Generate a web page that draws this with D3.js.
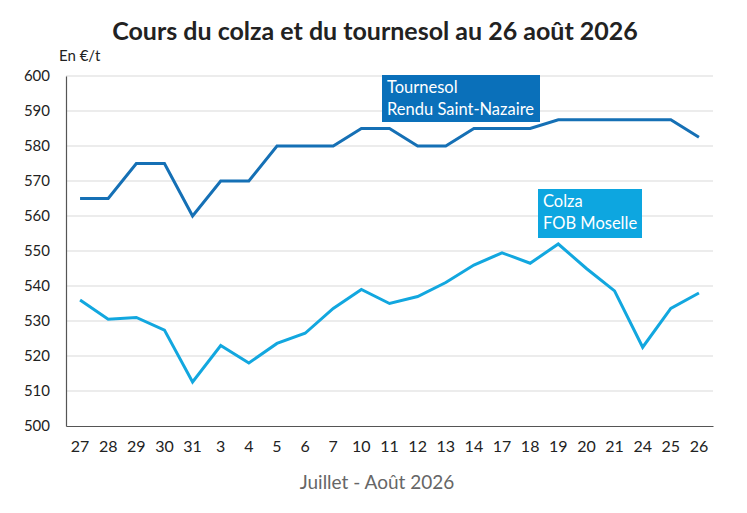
<!DOCTYPE html>
<html><head><meta charset="utf-8">
<script src="https://cdn.jsdelivr.net/npm/d3@7"></script>
<style>body{margin:0;background:#fff}svg{display:block}</style>
</head><body>
<svg id="c" width="747" height="513"></svg>
<script>
const categories = ["27","28","29","30","31","3","4","5","6","7","10","11","12","13","14","17","18","19","20","21","24","25","26"];
const tournesol = [565,565,575,575,560,570,570,580,580,580,585,585,580,580,585,585,585,587.5,587.5,587.5,587.5,587.5,582.5];
const colza = [536,530.5,531,527.4,512.6,523,518,523.6,526.5,533.6,539,535,537,541,546,549.5,546.5,552,545,538.6,522.5,533.6,538];
const yTicks = [500,510,520,530,540,550,560,570,580,590,600];

const svg = d3.select("#c");
const L = 66, R = 713, T = 76, B = 426;
const x = d3.scaleBand().domain(categories).range([L, R]);
const y = d3.scaleLinear().domain([500, 600]).range([B, T]);
const font = "Lato, 'Open Sans', sans-serif";

svg.append("text").attr("x", 375).attr("y", 40).attr("text-anchor", "middle")
  .attr("font-family", font).attr("font-weight", 700).attr("font-size", 25).attr("fill", "#222")
  .text("Cours du colza et du tournesol au 26 août 2026");
svg.append("text").attr("x", 59).attr("y", 61).attr("font-family", font).attr("font-size", 15).attr("fill", "#222").text("En €/t");

// grid
svg.append("g").selectAll("line").data(yTicks.slice(1)).join("line")
  .attr("x1", L).attr("x2", R).attr("y1", d => y(d)).attr("y2", d => y(d))
  .attr("stroke", "#d9d9d9").attr("stroke-width", 1);

const ya = svg.append("g").attr("transform", `translate(${L},0)`)
  .call(d3.axisLeft(y).tickValues(yTicks).tickSize(0).tickPadding(16));
ya.select(".domain").attr("stroke", "#555").attr("stroke-width", 1.2);
ya.selectAll("text").attr("font-family", font).attr("font-size", 15).attr("fill", "#222");

const xa = svg.append("g").attr("transform", `translate(0,${B})`)
  .call(d3.axisBottom(x).tickSize(0).tickPadding(15));
xa.select(".domain").attr("stroke", "#555").attr("stroke-width", 1.2);
xa.selectAll("text").attr("font-family", font).attr("font-size", 16).attr("fill", "#222");

svg.append("text").attr("x", 377).attr("y", 489).attr("text-anchor", "middle")
  .attr("font-family", font).attr("font-size", 19).attr("fill", "#666").text("Juillet - Août 2026");

const line = d3.line().x((d, i) => x(categories[i]) + x.bandwidth() / 2).y(d => y(d));
svg.append("path").datum(tournesol).attr("d", line).attr("fill", "none")
  .attr("stroke", "#1570B5").attr("stroke-width", 3).attr("stroke-linejoin", "miter");
svg.append("path").datum(colza).attr("d", line).attr("fill", "none")
  .attr("stroke", "#12A7DF").attr("stroke-width", 3).attr("stroke-linejoin", "miter");

function label(x0, y0, w, h, color, lines) {
  const g = svg.append("g");
  g.append("rect").attr("x", x0).attr("y", y0).attr("width", w).attr("height", h).attr("fill", color);
  lines.forEach((t, i) => g.append("text").attr("x", x0 + 5).attr("y", y0 + 18 + i * 22)
    .attr("font-family", font).attr("font-size", 16.5).attr("fill", "#fff").text(t));
}
label(382, 75, 158, 47, "#0A70BA", ["Tournesol", "Rendu Saint-Nazaire"]);
label(538, 189, 104, 49, "#0DA6E0", ["Colza", "FOB Moselle"]);
</script>
</body></html>
